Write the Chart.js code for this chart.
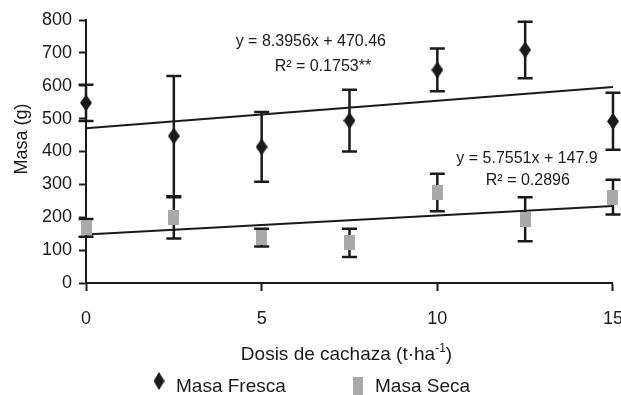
<!DOCTYPE html>
<html>
<head>
<meta charset="utf-8">
<script src="https://cdn.jsdelivr.net/npm/chart.js@4.4.1/dist/chart.umd.min.js"></script>
<style>
  html, body { margin: 0; padding: 0; overflow: hidden; background: #ffffff; }
  #wrap { width: 640px; height: 395px; }
</style>
</head>
<body>
<div id="wrap"><canvas id="chart" width="640" height="395"></canvas></div>
<script>
// Doses of filter cake (t·ha-1) and measured plant mass (g), mean ± error
const doses = [0, 2.5, 5, 7.5, 10, 12.5, 15];
const masaFresca = [548, 447, 414, 494, 648, 709, 492];
const errFresca = [55, 183, 106, 94, 65, 86, 87];
const masaSeca = [168, 198, 138, 122, 275, 194, 261];
const errSeca = [27, 63, 27, 43, 57, 67, 53];
const xTicks = [0, 5, 10, 15];
const yTicks = [0, 100, 200, 300, 400, 500, 600, 700, 800];

// Linear fits reported for each series
const fitFresca = { slope: 8.3956, intercept: 470.46, r2: '0.1753**', eqAt: [4.26, 734], r2At: [5.37, 658] };
const fitSeca = { slope: 5.7551, intercept: 147.9, r2: '0.2896', eqAt: [10.54, 378], r2At: [11.38, 310] };

const FONT = '"Liberation Sans", Arial, Helvetica, sans-serif';
const INK = '#1a1a1a';
const GREY = '#a9a9a9';

// Marker images
function diamondImg(w, h, color) {
  const c = document.createElement('canvas');
  c.width = w; c.height = h;
  const g = c.getContext('2d');
  g.fillStyle = color;
  g.beginPath();
  g.moveTo(w / 2, 0); g.lineTo(w, h / 2); g.lineTo(w / 2, h); g.lineTo(0, h / 2);
  g.closePath(); g.fill();
  return c;
}
function rectImg(w, h, color) {
  const c = document.createElement('canvas');
  c.width = w; c.height = h;
  const g = c.getContext('2d');
  g.fillStyle = color;
  g.fillRect(0, 0, w, h);
  return c;
}
const diamond = diamondImg(12, 17, INK);
const square = rectImg(11, 15, GREY);

function points(xs, ys) { return xs.map((x, i) => ({ x: x, y: ys[i] })); }
function fitLine(f) {
  const x0 = doses[0], x1 = doses[doses.length - 1];
  return [{ x: x0, y: f.intercept + f.slope * x0 }, { x: x1, y: f.intercept + f.slope * x1 }];
}

const errorBars = {
  id: 'errorBars',
  beforeDatasetsDraw(chart) {
    const { ctx, scales: { x, y } } = chart;
    const sets = [[masaFresca, errFresca], [masaSeca, errSeca]];
    ctx.save();
    ctx.strokeStyle = INK;
    ctx.lineWidth = 2.5;
    const cap = 7.5;
    sets.forEach(([vals, errs]) => {
      vals.forEach((v, i) => {
        const px = x.getPixelForValue(doses[i]);
        const top = y.getPixelForValue(v + errs[i]);
        const bot = y.getPixelForValue(v - errs[i]);
        ctx.beginPath();
        ctx.moveTo(px, top); ctx.lineTo(px, bot);
        ctx.moveTo(px - cap, top); ctx.lineTo(px + cap, top);
        ctx.moveTo(px - cap, bot); ctx.lineTo(px + cap, bot);
        ctx.stroke();
      });
    });
    ctx.restore();
  }
};

const labels = {
  id: 'labels',
  afterDraw(chart) {
    const { ctx, scales: { x, y }, chartArea } = chart;
    ctx.save();
    ctx.fillStyle = INK;
    ctx.textBaseline = 'middle';

    // Fit equations
    ctx.font = '16px ' + FONT;
    ctx.textAlign = 'left';
    [fitFresca, fitSeca].forEach(f => {
      const eq = 'y = ' + f.slope + 'x + ' + f.intercept;
      ctx.fillText(eq, x.getPixelForValue(f.eqAt[0]), y.getPixelForValue(f.eqAt[1]));
      ctx.fillText('R\u00B2 = ' + f.r2, x.getPixelForValue(f.r2At[0]), y.getPixelForValue(f.r2At[1]));
    });

    // Y axis title
    ctx.save();
    ctx.translate(22, 139);
    ctx.rotate(-Math.PI / 2);
    ctx.textAlign = 'center';
    ctx.font = '18px ' + FONT;
    ctx.fillText('Masa (g)', 0, 0);
    ctx.restore();

    // X axis title with superscript
    const cx = (chartArea.left + chartArea.right) / 2 - 3;
    const ty = 355;
    const main = 'Dosis de cachaza (t\u00B7ha';
    const sup = '-1';
    const tail = ')';
    ctx.font = '19px ' + FONT;
    const wMain = ctx.measureText(main).width;
    const wTail = ctx.measureText(tail).width;
    ctx.font = '12px ' + FONT;
    const wSup = ctx.measureText(sup).width;
    let sx = cx - (wMain + wSup + wTail) / 2;
    ctx.textAlign = 'left';
    ctx.font = '19px ' + FONT;
    ctx.fillText(main, sx, ty);
    sx += wMain;
    ctx.font = '12px ' + FONT;
    ctx.fillText(sup, sx, ty - 6);
    sx += wSup;
    ctx.font = '19px ' + FONT;
    ctx.fillText(tail, sx, ty);

    // Legend
    ctx.font = '19px ' + FONT;
    const items = [
      { img: diamond, w: 11, h: 18, mx: 159, my: 381, tx: 176, text: chart.data.datasets[0].label },
      { img: rectImg(10, 18, GREY), w: 10, h: 18, mx: 358, my: 386, tx: 375, text: chart.data.datasets[1].label }
    ];
    items.forEach(it => {
      ctx.drawImage(it.img, it.mx - it.w / 2, it.my - it.h / 2, it.w, it.h);
      ctx.fillText(it.text, it.tx, 387);
    });
    ctx.restore();
  }
};

new Chart(document.getElementById('chart'), {
  type: 'scatter',
  data: {
    datasets: [
      { label: 'Masa Fresca', data: points(doses, masaFresca), pointStyle: diamond, pointRadius: 8, order: 1, clip: false },
      { label: 'Masa Seca', data: points(doses, masaSeca), pointStyle: square, pointRadius: 8, order: 1, clip: false },
      { type: 'line', label: 'fit fresca', data: fitLine(fitFresca), borderColor: INK, borderWidth: 2, pointRadius: 0, fill: false, order: 2, clip: false },
      { type: 'line', label: 'fit seca', data: fitLine(fitSeca), borderColor: INK, borderWidth: 2, pointRadius: 0, fill: false, order: 2, clip: false }
    ]
  },
  options: {
    responsive: false,
    animation: false,
    events: [],
    layout: { padding: { left: 0, right: 26, top: 20, bottom: 0 } },
    plugins: { legend: { display: false }, tooltip: { enabled: false } },
    scales: {
      x: {
        type: 'linear', min: 0, max: 15,
        afterBuildTicks: s => { s.ticks = xTicks.map(v => ({ value: v })); },
        afterFit: s => { s.height = 112; },
        grid: { drawOnChartArea: false, drawTicks: true, tickLength: 8, tickColor: INK, tickWidth: 2 },
        border: { display: true, color: INK, width: 2 },
        ticks: { color: INK, font: { family: FONT, size: 18 }, padding: 17, maxRotation: 0, autoSkip: false }
      },
      y: {
        type: 'linear', min: 0, max: 800,
        afterBuildTicks: s => { s.ticks = yTicks.map(v => ({ value: v })); },
        afterFit: s => { s.width = 86; },
        grid: { drawOnChartArea: false, drawTicks: true, tickLength: 7, tickColor: INK, tickWidth: 2 },
        border: { display: true, color: INK, width: 2 },
        ticks: { color: INK, font: { family: FONT, size: 18 }, padding: 7 }
      }
    }
  },
  plugins: [errorBars, labels]
});
</script>
</body>
</html>
